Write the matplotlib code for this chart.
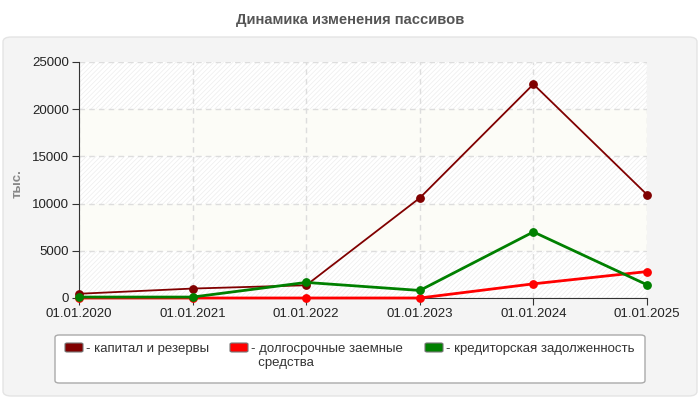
import matplotlib
matplotlib.use('Agg')
import matplotlib.pyplot as plt
from matplotlib.patches import FancyBboxPatch

plt.rcParams['font.family'] = ['Liberation Sans', 'DejaVu Sans']
plt.rcParams['hatch.linewidth'] = 0.5

dates = ['01.01.2020', '01.01.2021', '01.01.2022', '01.01.2023', '01.01.2024', '01.01.2025']
capital = [450, 1000, 1350, 10600, 22650, 10950]
long_debt = [0, 0, 0, 0, 1500, 2800]
payables = [100, 100, 1650, 800, 7000, 1400]

series_labels = ['- капитал и резервы', '- долгосрочные заемные\n  средства', '- кредиторская задолженность']
series_colors = ['#800000', '#ff0000', '#008000']
series_widths = [1.3, 2.0, 2.0]

W, H = 700, 400


def fx(px):
    return px / W


def fy(py):
    return 1 - py / H


fig = plt.figure(figsize=(7, 4), dpi=100)
fig.patch.set_facecolor('white')

# gray panel behind the chart
panel = FancyBboxPatch((fx(3), fy(396)), fx(694), 359 / H,
                       boxstyle='round,pad=0,rounding_size=0.012',
                       transform=fig.transFigure, facecolor='#f4f4f4',
                       edgecolor='#e4e4e4', linewidth=1.0, zorder=-5)
fig.patches.append(panel)

fig.text(0.5, fy(20), 'Динамика изменения пассивов', ha='center', va='center',
         fontsize=10.6, fontweight='bold', color='#555555')

ax = fig.add_axes([fx(79), fy(298), 568 / W, 236 / H])
ax.set_facecolor('white')
x = list(range(len(dates)))

# alternating background bands
for i, lo in enumerate(range(0, 25000, 5000)):
    if i % 2 == 0:
        ax.axhspan(lo, lo + 5000, facecolor='white', edgecolor='#ededed',
                   hatch='///////', linewidth=0, zorder=0)
    else:
        ax.axhspan(lo, lo + 5000, facecolor='#fcfcf7', linewidth=0, zorder=0)

for vals, col, lw in zip([capital, long_debt, payables], series_colors, series_widths):
    ax.plot(x, vals, color=col, lw=lw, marker='o', markersize=5.3, clip_on=False, zorder=3)

ax.set_xlim(0, len(dates) - 1)
ax.set_ylim(0, 25000)
ax.set_xticks(x)
ax.set_xticklabels(dates)
ax.set_yticks(range(0, 25001, 5000))
ax.grid(True, color='#dddddd', linestyle=(0, (4, 3)), linewidth=1.0, zorder=1)
ax.set_axisbelow(True)
for s in ['top', 'right']:
    ax.spines[s].set_visible(False)
for s in ['left', 'bottom']:
    ax.spines[s].set_color('#333333')
ax.tick_params(axis='both', labelsize=9.5, colors='#333333', length=5, pad=2)
ax.tick_params(axis='both', labelcolor='#222222')

fig.text(fx(18), fy(184), 'тыс.', rotation=90, ha='center', va='center',
         fontsize=9.5, fontweight='bold', color='#888888')

# legend box drawn by hand
leg_box = FancyBboxPatch((fx(55), fy(383)), fx(590), 48 / H,
                         boxstyle='round,pad=0,rounding_size=0.006',
                         transform=fig.transFigure, facecolor='white',
                         edgecolor='#aaaaaa', linewidth=1.0, zorder=-1)
fig.patches.append(leg_box)
swatch_x = [65, 230, 425]
for sx, col, lab in zip(swatch_x, series_colors, series_labels):
    sw = FancyBboxPatch((fx(sx), fy(352)), fx(18), 9 / H,
                        boxstyle='round,pad=0,rounding_size=0.003',
                        transform=fig.transFigure, facecolor=col,
                        edgecolor='#777777', linewidth=0.8)
    fig.patches.append(sw)
    fig.text(fx(sx + 21), fy(343), lab, ha='left', va='top', fontsize=9.5,
             color='#333333', linespacing=1.2)

fig.savefig('out.png', dpi=100)
